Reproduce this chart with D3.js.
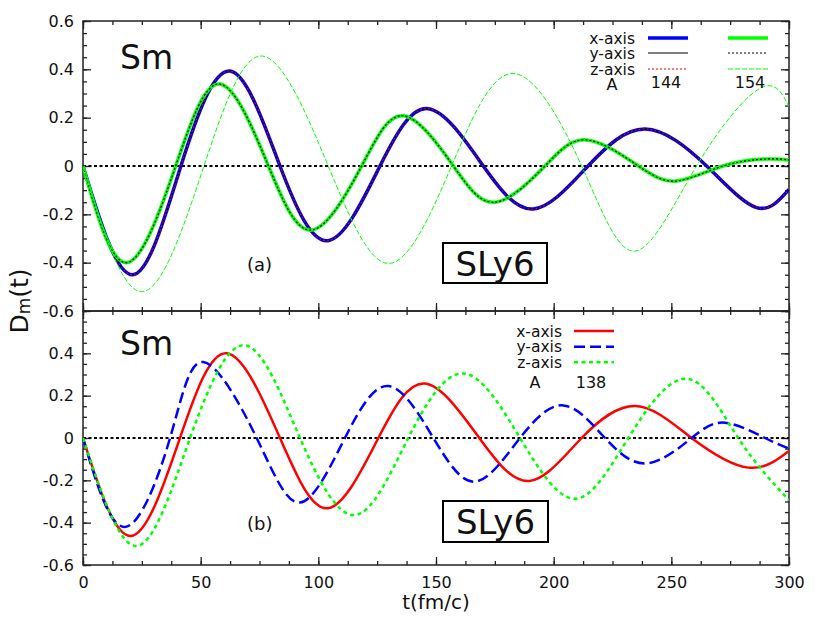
<!DOCTYPE html>
<html>
  <head>
    <script src="https://d3js.org/d3.v7.min.js"></script>
    <style>
      body, html {
        margin: 0;
        background: white;
        font-family: 'DejaVu Sans', sans-serif;
      }
      text {
        fill: #111;
      }
      .tick text {
        font-size: 16px;
        font-family: 'DejaVu Sans', sans-serif;
        fill: #111;
      }
      .tick line {
        stroke: #222;
        stroke-width: 1.3px;
      }
      .domain {
        display: none;
      }
      .curve {
        fill: none;
      }
    </style>
  </head>
  <body>
    <div id="chart"></div>
    <script>
      // times (fm/c) and D_m values read at extrema and zero crossings
      // panel (a): A = 144, x/y/z curves coincide
      var t144 = [0, 21.1, 41.6, 62.5, 83.7, 104.2, 126.2, 146.7, 170.1, 191.3, 214.6, 238.8, 265, 286.2, 300];
      var d144 = [0, -0.45, 0, 0.393, 0, -0.309, 0, 0.237, 0, -0.178, 0, 0.153, 0, -0.172, -0.097];
      // panel (a): A = 154, x and y coincide
      var t154xy = [0, 18.5, 39.4, 58.2, 78.8, 97.2, 118.4, 136.1, 157.4, 175.1, 196.3, 214, 236, 252.3, 272, 290.5, 300];
      var d154xy = [0, -0.40, 0, 0.339, 0, -0.265, 0, 0.208, 0, -0.150, 0, 0.108, 0, -0.062, 0, 0.029, 0.025];
      // panel (a): A = 154, z
      var t154z = [0, 25.2, 51.4, 76.2, 104.2, 130.2, 156.6, 182.8, 211.9, 234.5, 260.7, 287.6, 300];
      var d154z = [0, -0.52, 0, 0.455, 0, -0.403, 0, 0.383, 0, -0.352, 0, 0.321, 0.245];
      // panel (b): A = 138
      var t138x = [0, 20.3, 41.2, 61.1, 83.7, 104, 125.5, 145.3, 168.4, 189.6, 211.9, 235, 258.6, 282.7, 300];
      var d138x = [0, -0.463, 0, 0.40, 0, -0.332, 0, 0.257, 0, -0.203, 0, 0.151, 0, -0.140, -0.061];
      var t138y = [0, 17.8, 37, 51.1, 73.8, 92.2, 111.3, 129.7, 148.9, 166.6, 185.7, 204.1, 221.8, 239.5, 258.6, 272.8, 289.8, 300];
      var d138y = [0, -0.42, 0, 0.359, 0, -0.305, 0, 0.246, 0, -0.206, 0, 0.154, 0, -0.120, 0, 0.072, 0, -0.05];
      var t138z = [0, 22.8, 45.5, 68.8, 92.2, 115.6, 138.2, 161.6, 185.7, 209, 231.7, 256.5, 278.4, 300];
      var d138z = [0, -0.51, 0, 0.438, 0, -0.364, 0, 0.305, 0, -0.287, 0, 0.280, 0, -0.294];

      var xTicks = [0, 50, 100, 150, 200, 250, 300];
      var yTicksTop = [-0.6, -0.4, -0.2, 0, 0.2, 0.4, 0.6];
      var yTicksBottom = [-0.6, -0.4, -0.2, 0, 0.2, 0.4];

      var width = 830, height = 623;
      var left = 83, right = 789;

      var svg = d3.select("#chart")
        .append("svg")
        .attr("width", width)
        .attr("height", height);

      svg.append("rect")
        .attr("width", width)
        .attr("height", height)
        .attr("fill", "white");

      var x = d3.scaleLinear().domain([0, 300]).range([left, right]);
      var yTop = d3.scaleLinear().domain([-0.6, 0.6]).range([311, 21]);
      var yBot = d3.scaleLinear().domain([-0.6, 0.6]).range([565, 311]);

      var minorX = d3.range(0, 300.01, 12.5);
      var minorY = d3.range(-0.6, 0.601, 0.05);
      var fmtY = d => d === 0 ? "0" : d.toFixed(1);

      function panel(id, y, yTicks, showX) {
        var g = svg.append("g");
        var top = y.range()[1], bot = y.range()[0];

        g.append("clipPath").attr("id", id)
          .append("rect")
          .attr("x", left).attr("y", top)
          .attr("width", right - left).attr("height", bot - top);

        // minor ticks
        g.append("g").attr("transform", `translate(${left},0)`)
          .call(d3.axisLeft(y).tickValues(minorY).tickSize(-4).tickFormat(""));
        g.append("g").attr("transform", `translate(${right},0)`)
          .call(d3.axisRight(y).tickValues(minorY).tickSize(-4).tickFormat(""));
        g.append("g").attr("transform", `translate(0,${bot})`)
          .call(d3.axisBottom(x).tickValues(minorX).tickSize(-4).tickFormat(""));
        g.append("g").attr("transform", `translate(0,${top})`)
          .call(d3.axisTop(x).tickValues(minorX).tickSize(-4).tickFormat(""));

        // major ticks
        g.append("g").attr("transform", `translate(${left},0)`)
          .call(d3.axisLeft(y).tickValues(yTicks).tickSize(-8).tickPadding(9).tickFormat(fmtY));
        g.append("g").attr("transform", `translate(${right},0)`)
          .call(d3.axisRight(y).tickValues(yTicksTop).tickSize(-8).tickFormat(""));
        g.append("g").attr("transform", `translate(0,${bot})`)
          .call(d3.axisBottom(x).tickValues(xTicks).tickSize(-8).tickPadding(12)
            .tickFormat(showX ? d3.format("d") : ""));
        g.append("g").attr("transform", `translate(0,${top})`)
          .call(d3.axisTop(x).tickValues(xTicks).tickSize(-8).tickFormat(""));

        g.append("rect")
          .attr("x", left).attr("y", top)
          .attr("width", right - left).attr("height", bot - top)
          .attr("fill", "none")
          .attr("stroke", "#222")
          .attr("stroke-width", 1.5);

        return g;
      }

      function curve(g, clip, y, ts, ds, color, w, dash) {
        var line = d3.line()
          .x(i => x(ts[i]))
          .y(i => y(ds[i]))
          .curve(d3.curveNatural);
        g.append("path")
          .attr("class", "curve")
          .attr("clip-path", `url(#${clip})`)
          .attr("d", line(d3.range(ts.length)))
          .attr("stroke", color)
          .attr("stroke-width", w)
          .attr("stroke-dasharray", dash || null);
      }

      function zeroLine(g, y) {
        g.append("line")
          .attr("x1", left).attr("x2", right)
          .attr("y1", y(0)).attr("y2", y(0))
          .attr("stroke", "#000")
          .attr("stroke-width", 2)
          .attr("stroke-dasharray", "3,2.5");
      }

      function legendRow(g, lx, ly, color, w, dash) {
        g.append("line")
          .attr("x1", lx).attr("x2", lx + 40)
          .attr("y1", ly).attr("y2", ly)
          .attr("stroke", color)
          .attr("stroke-width", w)
          .attr("stroke-dasharray", dash || null);
      }

      // ---- panel (a)
      var ga = panel("clipA", yTop, yTicksTop, false);
      zeroLine(ga, yTop);
      curve(ga, "clipA", yTop, t144, d144, "#0000ff", 3.5);
      curve(ga, "clipA", yTop, t144, d144, "#000", 1);
      curve(ga, "clipA", yTop, t144, d144, "#ff0000", 1, "2,2");
      curve(ga, "clipA", yTop, t154xy, d154xy, "#00ff00", 3.5);
      curve(ga, "clipA", yTop, t154xy, d154xy, "#000", 1.2, "2,2");
      curve(ga, "clipA", yTop, t154z, d154z, "#00ff00", 1, "5,2");

      var legA = ["x-axis", "y-axis", "z-axis"];
      var legAy = [38, 53, 69];
      ga.selectAll(".leg").data(legA).enter().append("text")
        .attr("x", 635).attr("y", (d, i) => legAy[i] + 5.5)
        .attr("text-anchor", "end")
        .attr("font-size", 15.5)
        .text(d => d);
      legendRow(ga, 648, legAy[0], "#0000ff", 3.5);
      legendRow(ga, 648, legAy[1], "#000", 1.2);
      legendRow(ga, 648, legAy[2], "#ff0000", 1.2, "2,2");
      legendRow(ga, 728, legAy[0], "#00ff00", 3.5);
      legendRow(ga, 728, legAy[1], "#000", 1.2, "2,2");
      legendRow(ga, 728, legAy[2], "#00ff00", 1.2, "5,2");
      ga.append("text").attr("x", 612).attr("y", 90).attr("text-anchor", "middle").attr("font-size", 16).text("A");
      ga.append("text").attr("x", 666).attr("y", 88).attr("text-anchor", "middle").attr("font-size", 16).text("144");
      ga.append("text").attr("x", 750).attr("y", 88).attr("text-anchor", "middle").attr("font-size", 16).text("154");

      ga.append("text").attr("x", 120).attr("y", 69).attr("font-size", 33).text("Sm");
      ga.append("text").attr("x", 247).attr("y", 271).attr("font-size", 18).text("(a)");
      ga.append("rect").attr("x", 443).attr("y", 243).attr("width", 104).attr("height", 40)
        .attr("fill", "white").attr("stroke", "#000").attr("stroke-width", 2);
      ga.append("text").attr("x", 495).attr("y", 276).attr("text-anchor", "middle").attr("font-size", 34).text("SLy6");

      // ---- panel (b)
      var gb = panel("clipB", yBot, yTicksBottom, true);
      zeroLine(gb, yBot);
      curve(gb, "clipB", yBot, t138x, d138x, "#ff0000", 2.5);
      curve(gb, "clipB", yBot, t138y, d138y, "#0000ff", 2.5, "11,5");
      curve(gb, "clipB", yBot, t138z, d138z, "#00ff00", 2.5, "4,3.5");

      var legBy = [331, 346.7, 362.3];
      gb.selectAll(".leg").data(legA).enter().append("text")
        .attr("x", 562).attr("y", (d, i) => legBy[i] + 5.5)
        .attr("text-anchor", "end")
        .attr("font-size", 15.5)
        .text(d => d);
      legendRow(gb, 574, legBy[0], "#ff0000", 2.5);
      legendRow(gb, 574, legBy[1], "#0000ff", 2.5, "11,5");
      legendRow(gb, 574, legBy[2], "#00ff00", 2.5, "4,3.5");
      gb.append("text").attr("x", 535).attr("y", 388).attr("text-anchor", "middle").attr("font-size", 16).text("A");
      gb.append("text").attr("x", 591).attr("y", 388).attr("text-anchor", "middle").attr("font-size", 16).text("138");

      gb.append("text").attr("x", 120).attr("y", 355).attr("font-size", 33).text("Sm");
      gb.append("text").attr("x", 247).attr("y", 530).attr("font-size", 18).text("(b)");
      gb.append("rect").attr("x", 443).attr("y", 501).attr("width", 105).attr("height", 41)
        .attr("fill", "white").attr("stroke", "#000").attr("stroke-width", 2);
      gb.append("text").attr("x", 495.5).attr("y", 534).attr("text-anchor", "middle").attr("font-size", 34).text("SLy6");

      // axis titles
      svg.append("text")
        .attr("x", 436).attr("y", 609)
        .attr("text-anchor", "middle")
        .attr("font-size", 20)
        .text("t(fm/c)");

      var yl = svg.append("text")
        .attr("transform", "translate(28,301) rotate(-90)")
        .attr("text-anchor", "middle")
        .attr("font-size", 25);
      yl.append("tspan").text("D");
      yl.append("tspan").attr("font-size", 17).attr("dy", 2).text("m");
      yl.append("tspan").attr("dy", -2).text("(t)");
    </script>
  </body>
</html>
